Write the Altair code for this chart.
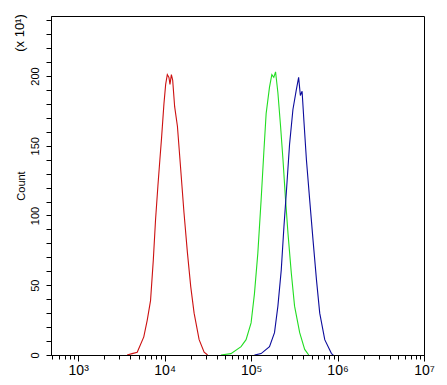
import altair as alt
import pandas as pd

# ---- data ----
red_x = [3681, 4207, 4819, 5741, 6295, 6871, 7396, 7852, 8356, 8810, 9226, 9817, 10280, 10740,
         11220, 11530, 11970, 12390, 13060, 14060, 15350, 16750, 18370, 20040, 21930, 25060, 28640, 31410]
red_y = [0, 1, 2, 13, 25, 39, 68, 97, 121, 140, 156, 180, 194, 201,
         199, 194, 201, 197, 178, 164, 133, 102, 73, 49, 30, 11, 2, 0]

green_x = [44770, 58480, 76560, 87500, 100000, 109400, 119700, 130600, 140300, 149300, 163300, 173800,
           183200, 191900, 204200, 219300, 233900, 250600, 267300, 291700, 318400, 364800, 416900, 464500]
green_y = [0, 1, 6, 11, 23, 44, 73, 111, 145, 173, 192, 201,
           199, 203, 188, 164, 140, 111, 87, 59, 35, 16, 4, 0]

blue_x = [109400, 130600, 163300, 186600, 204200, 223400, 239900, 255300, 278600, 304800, 333400, 354800,
          371500, 389000, 410200, 436500, 476400, 521200, 570200, 622300, 711200, 851100, 891300]
blue_y = [0, 1, 6, 16, 35, 61, 92, 116, 151, 176, 190, 199,
          186, 189, 166, 140, 111, 82, 54, 30, 11, 1, 0]

series_names = ["red", "green", "blue"]
series_colors = ["#cc1111", "#22dd22", "#0c0c9c"]

x_major = [1000, 10000, 100000, 1000000, 10000000]
x_major_labels = ["10³", "10⁴", "10⁵", "10⁶", "10⁷"]
x_minor = [m * 10 ** e for e in range(2, 7) for m in range(2, 10) if m * 10 ** e >= 500]
y_ticks = list(range(0, 250, 10))
y_labels = [0, 50, 100, 150, 200]

rows = []
for name, xs, ys in [("red", red_x, red_y), ("green", green_x, green_y), ("blue", blue_x, blue_y)]:
    for i, (xv, yv) in enumerate(zip(xs, ys)):
        rows.append({"series": name, "x": xv, "count": yv, "order": i})
df = pd.DataFrame(rows)

FONT = "Liberation Sans"
XDOM = [485, 10000000]
YDOM = [0, 243]

x_label_expr = " : ".join(
    [f"datum.value == {v} ? '{l}'" for v, l in zip(x_major, x_major_labels)]
) + " : ''"
y_label_expr = "indexof([" + ",".join(str(v) for v in y_labels) + "], datum.value) >= 0 ? datum.label : ''"

base = alt.Chart(df)

lines = base.mark_line(strokeWidth=1.1, clip=True).encode(
    x=alt.X("x:Q", scale=alt.Scale(type="log", domain=XDOM, nice=False),
            axis=alt.Axis(orient="bottom", values=x_major, labelExpr=x_label_expr, tickSize=6,
                          grid=False, title=None, labelFont=FONT, labelFontSize=14,
                          labelColor="black", domainColor="black", tickColor="black",
                          labelPadding=2, labelFlush=False)),
    y=alt.Y("count:Q", scale=alt.Scale(domain=YDOM, nice=False),
            axis=alt.Axis(values=y_ticks, labelExpr=y_label_expr, tickSize=5, grid=False,
                          title="Count", titleFont=FONT, titleFontSize=11, titleFontWeight="normal",
                          titleColor="black", titlePadding=3,
                          labelFont=FONT, labelFontSize=11, labelColor="black", labelAngle=270,
                          labelAlign="center", labelBaseline="bottom", labelPadding=6,
                          domainColor="black", tickColor="black")),
    color=alt.Color("series:N", scale=alt.Scale(domain=series_names, range=series_colors), legend=None),
    detail="series:N",
    order="order:Q",
)

minor = alt.Chart(pd.DataFrame({"x": x_minor})).mark_tick(opacity=0).encode(
    x=alt.X("x:Q", scale=alt.Scale(type="log", domain=XDOM, nice=False),
            axis=alt.Axis(orient="bottom", values=x_minor, labels=False, tickSize=4, grid=False,
                          title=None, domainColor="black", tickColor="black")),
)

exp_text = alt.Chart(pd.DataFrame({"t": ["(x 10¹)"]})).mark_text(
    angle=270, font=FONT, fontSize=13, color="black", align="center", baseline="middle"
).encode(x=alt.value(-31), y=alt.value(17), text="t:N")

chart = alt.layer(lines, minor, exp_text).resolve_axis(x="independent").properties(
    width=373, height=339,
    autosize=alt.AutoSizeParams(type="none"),
    padding={"left": 43, "top": 8, "right": 15, "bottom": 22},
    background="white",
).configure_view(stroke="black", strokeWidth=1)

chart.save("out.html", embed_options={"renderer": "svg", "actions": False})
